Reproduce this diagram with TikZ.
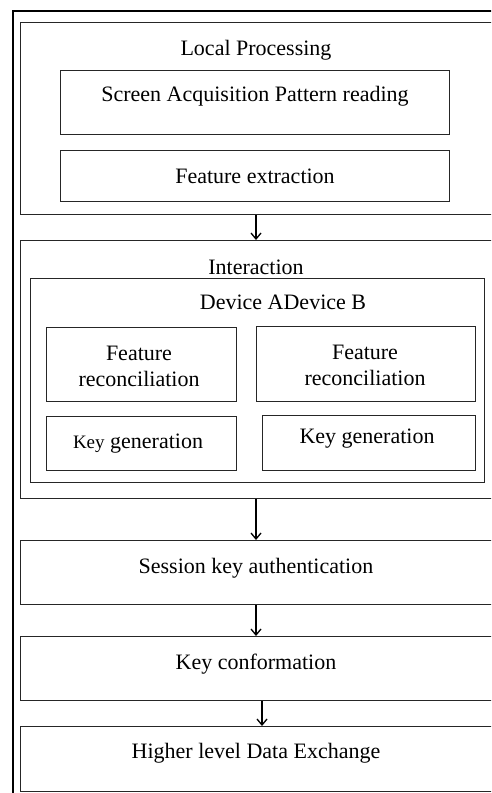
\documentclass[tikz,border=0pt]{standalone}
\usepackage{fontspec}
\setmainfont{Liberation Serif}
\usetikzlibrary{arrows.meta}
\begin{document}
\begin{tikzpicture}[x=1pt, y=-1pt]
                \tikzstyle{box} = [draw=black!85, line width=1.3pt, anchor=north west, inner sep=0pt, minimum width={#1}]
                \tikzstyle{txt} = [anchor=base, inner sep=0pt, font=\fontsize{22}{26}\selectfont]
                \tikzstyle{flow} = [line width=1.3pt, -{Straight Barb[length=6pt, width=10pt]}]
                \useasboundingbox (0, 0) rectangle (491, 793);
                \clip (0, 0) rectangle (491, 793);
                \fill[white] (0, 0) rectangle (491, 793);
                \node[box=600, draw=black, line width=2.2pt, minimum height=900] (frame) at (12, 10) {};
                % local processing
                \node[box=520, minimum height=192] (local) at (20, 22) {};
                \node[box=389, minimum height=64] (screen) at (60, 70) {};
                \node[box=389, minimum height=51] (feature) at (60, 150) {};
                \node[txt] (localtxt) at (256, 55) {Local Processing};
                \node[txt] (screentxt) at (255, 101) {Screen Acquisition Pattern reading};
                \node[txt] (featuretxt) at (255, 183) {Feature extraction};
                % interaction
                \node[box=520, minimum height=258] (interact) at (20, 240) {};
                \node[box=454, minimum height=204] (devices) at (30, 278) {};
                \node[box=190, minimum height=74] (recA) at (46, 327) {};
                \node[box=219, minimum height=75] (recB) at (256, 326) {};
                \node[box=190, minimum height=54] (keyA) at (46, 416) {};
                \node[box=213, minimum height=55] (keyB) at (262, 415) {};
                \node[txt] (interacttxt) at (256, 274) {Interaction};
                \node[txt] (devicestxt) at (283, 309) {Device ADevice B};
                \node[txt, anchor=center, align=center] (recAtxt) at (139, 366) {Feature\\reconciliation};
                \node[txt, anchor=center, align=center] (recBtxt) at (365, 365) {Feature\\reconciliation};
                \node[txt] (keyAtxt) at (138, 448) {{\fontsize{19}{22}\selectfont Key} generation};
                \node[txt] (keyBtxt) at (367, 443) {Key generation};
                % later steps
                \node[box=520, minimum height=64] (session) at (20, 540) {};
                \node[box=520, minimum height=64] (confirm) at (20, 636) {};
                \node[box=520, minimum height=65] (exchange) at (20, 726) {};
                \node[txt] (sessiontxt) at (256, 573) {Session key authentication};
                \node[txt] (confirmtxt) at (256, 669) {Key conformation};
                \node[txt] (exchangetxt) at (256, 758) {Higher level Data Exchange};
                % arrows
                \coordinate (mid) at (256, 0);
                \coordinate (midB) at (262, 0);
                \draw[flow] (local.south -| mid) -- (interact.north -| mid);
                \draw[flow] (interact.south -| mid) -- (session.north -| mid);
                \draw[flow] (session.south -| mid) -- (confirm.north -| mid);
                \draw[flow] (confirm.south -| midB) -- (exchange.north -| midB);
            \end{tikzpicture}
\end{document}
